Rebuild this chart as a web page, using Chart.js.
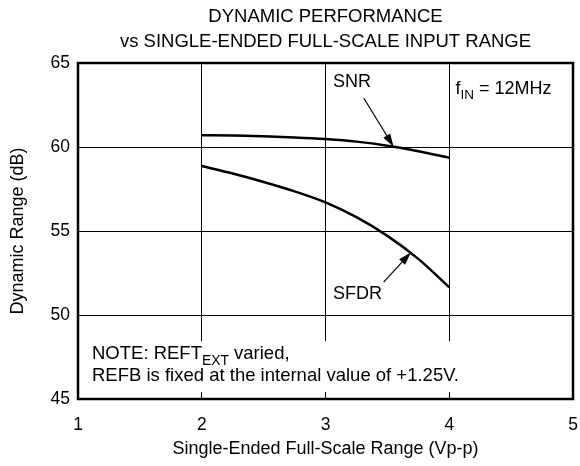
<!DOCTYPE html>
<html>
<head>
<meta charset="utf-8">
<script src="https://cdn.jsdelivr.net/npm/chart.js@4.4.1/dist/chart.umd.min.js"></script>
<style>
  html, body { margin: 0; padding: 0; background: #fff; }
  #chart { display: block; }
</style>
</head>
<body>
<canvas id="chart" width="580" height="466"></canvas>
<script>
const FONT = '"Liberation Sans", Arial, Helvetica, sans-serif';
const INK = '#000';

const xTicks = [1, 2, 3, 4, 5];
const yTicks = [45, 50, 55, 60, 65];

const snrX = [2, 2.25, 2.5, 2.75, 3, 3.25, 3.5, 3.75, 4];
const snrY = [60.70, 60.69, 60.64, 60.57, 60.47, 60.32, 60.08, 59.75, 59.36];
const sfdrX = [2, 2.25, 2.5, 2.75, 3, 3.25, 3.5, 3.75, 4];
const sfdrY = [58.87, 58.42, 57.92, 57.36, 56.7, 55.82, 54.71, 53.34, 51.65];

const titleLines = ['DYNAMIC PERFORMANCE', 'vs SINGLE-ENDED FULL-SCALE INPUT RANGE'];
const xTitle = 'Single-Ended Full-Scale Range (Vp-p)';
const yTitle = 'Dynamic Range (dB)';

function pts(xs, ys) {
  return xs.map((x, i) => ({ x, y: ys[i] }));
}

function font(size) {
  return size + 'px ' + FONT;
}

// text with a subscript part: [['f', false], ['IN', true], [' = 12MHz', false]]
function drawRich(ctx, parts, x, y, size) {
  ctx.textAlign = 'left';
  ctx.textBaseline = 'alphabetic';
  let cx = x;
  parts.forEach(([t, sub]) => {
    ctx.font = font(sub ? size * 0.75 : size);
    ctx.fillText(t, cx, sub ? y + size * 0.3 : y);
    cx += ctx.measureText(t).width;
  });
}

function arrow(ctx, x1, y1, x2, y2) {
  const a = Math.atan2(y2 - y1, x2 - x1);
  const len = 13, half = 4;
  ctx.strokeStyle = INK;
  ctx.lineWidth = 1.2;
  ctx.beginPath();
  ctx.moveTo(x1, y1);
  ctx.lineTo(x2 - Math.cos(a) * len * 0.8, y2 - Math.sin(a) * len * 0.8);
  ctx.stroke();
  ctx.fillStyle = INK;
  ctx.beginPath();
  ctx.moveTo(x2, y2);
  ctx.lineTo(x2 - Math.cos(a) * len + Math.sin(a) * half, y2 - Math.sin(a) * len - Math.cos(a) * half);
  ctx.lineTo(x2 - Math.cos(a) * len - Math.sin(a) * half, y2 - Math.sin(a) * len + Math.cos(a) * half);
  ctx.closePath();
  ctx.fill();
}

const decor = {
  id: 'decor',
  beforeDatasetsDraw(chart) {
    const { ctx, chartArea: a } = chart;
    ctx.save();
    // note box sits over the gridlines
    ctx.fillStyle = '#fff';
    ctx.fillRect(a.left + 4, a.bottom - 58, 390, 51);
    ctx.fillStyle = INK;
    drawRich(ctx, [['NOTE: REFT', false], ['EXT', true], [' varied,', false]], a.left + 14, a.bottom - 40, 18.5);
    ctx.font = font(18.5);
    ctx.fillText('REFB is fixed at the internal value of +1.25V.', a.left + 14, a.bottom - 18);
    ctx.restore();
  },
  afterDatasetsDraw(chart) {
    const { ctx, chartArea: a, scales: { x, y } } = chart;
    ctx.save();
    ctx.strokeStyle = INK;
    ctx.lineWidth = 2.5;
    ctx.strokeRect(a.left, a.top, a.right - a.left, a.bottom - a.top);

    ctx.fillStyle = INK;
    ctx.font = font(18);
    ctx.textAlign = 'left';
    ctx.textBaseline = 'alphabetic';
    ctx.fillText('SNR', x.getPixelForValue(3.06), y.getPixelForValue(63.6));
    ctx.fillText('SFDR', x.getPixelForValue(3.06), y.getPixelForValue(50.95));
    arrow(ctx, x.getPixelForValue(3.31), y.getPixelForValue(62.9), x.getPixelForValue(3.55), y.getPixelForValue(60.02));
    arrow(ctx, x.getPixelForValue(3.47), y.getPixelForValue(51.96), x.getPixelForValue(3.69), y.getPixelForValue(53.72));

    drawRich(ctx, [['f', false], ['IN', true], [' = 12MHz', false]], x.getPixelForValue(4.05), a.top + 31, 18);

    // titles
    const cx = (a.left + a.right) / 2;
    ctx.textAlign = 'center';
    ctx.textBaseline = 'middle';
    ctx.font = font(18.5);
    ctx.fillText(titleLines[0], cx, 17);
    ctx.fillText(titleLines[1], cx, 42);
    ctx.font = font(18);
    ctx.fillText(xTitle, cx, 449);
    ctx.translate(18, (a.top + a.bottom) / 2);
    ctx.rotate(-Math.PI / 2);
    ctx.fillText(yTitle, 0, 0);
    ctx.restore();
  }
};

const lineStyle = {
  borderColor: INK,
  borderWidth: 2.5,
  pointRadius: 0,
  fill: false,
  cubicInterpolationMode: 'monotone'
};

new Chart(document.getElementById('chart'), {
  type: 'line',
  data: {
    datasets: [
      { label: 'SNR', data: pts(snrX, snrY), ...lineStyle },
      { label: 'SFDR', data: pts(sfdrX, sfdrY), ...lineStyle }
    ]
  },
  options: {
    responsive: false,
    devicePixelRatio: 1,
    animation: false,
    layout: { padding: { top: 63, right: 7, bottom: 0, left: 0 } },
    plugins: { legend: { display: false }, tooltip: { enabled: false }, title: { display: false } },
    scales: {
      x: {
        type: 'linear', min: 1, max: 5,
        afterBuildTicks: s => { s.ticks = xTicks.map(v => ({ value: v })); },
        afterFit: s => { s.height = 67; s.paddingLeft = 0; s.paddingRight = 0; },
        grid: { color: INK, lineWidth: 1, drawTicks: false },
        border: { display: false },
        ticks: { color: INK, font: { family: FONT, size: 17.5 }, padding: 16, maxRotation: 0 }
      },
      y: {
        type: 'linear', min: 45, max: 65,
        afterBuildTicks: s => { s.ticks = yTicks.map(v => ({ value: v })); },
        afterFit: s => { s.width = 78; s.paddingTop = 0; s.paddingBottom = 0; },
        grid: { color: INK, lineWidth: 1, drawTicks: false },
        border: { display: false },
        ticks: { color: INK, font: { family: FONT, size: 17.5 }, padding: 8 }
      }
    }
  },
  plugins: [decor]
});
</script>
</body>
</html>
